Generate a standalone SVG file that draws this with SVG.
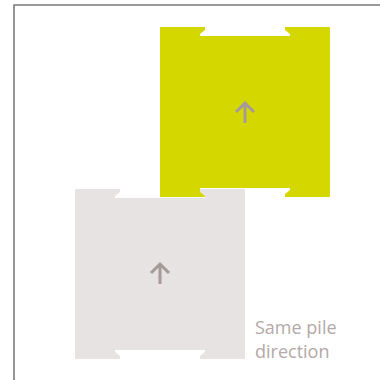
<svg xmlns="http://www.w3.org/2000/svg" width="380" height="380" viewBox="0 0 380 380">
  <style>
    .frame { fill: none; stroke: #7a7a7a; stroke-width: 1.6; }
    .arrow { fill: none; stroke: #a5999a; stroke-width: 3; stroke-linecap: butt; stroke-linejoin: miter; }
    .label { font-family: "Open Sans", "Noto Sans", sans-serif; font-size: 18px; fill: #b4a8a8; }
  </style>
  <rect width="380" height="380" fill="#ffffff"/>
  <path class="frame" d="M14,381 V5 H381"/>
  <g id="tile-yellow">
    <path fill="#d4d800" d="M160,27 H205 V30 L200,34 V36 H290 V34 L285,30 V27 H330 V197 H285 V194 L290,190 V188 H200 V190 L205,194 V197 H160 Z"/>
    <path class="arrow" d="M245,104 V123 M236,112 L245,103 L254,112"/>
  </g>
  <g id="tile-gray">
    <path fill="#e8e3e3" d="M75,189 H120 V192 L115,196 V198 H205 V196 L200,192 V189 H245 V359 H200 V356 L205,352 V350 H115 V352 L120,356 V359 H75 Z"/>
    <path class="arrow" d="M160,265 V284 M151,273 L160,264 L169,273"/>
  </g>
  <g id="connectors"></g>
  <g id="caption">
    <text class="label" x="255" y="334">Same pile</text>
    <text class="label" x="255" y="358">direction</text>
  </g>
</svg>
